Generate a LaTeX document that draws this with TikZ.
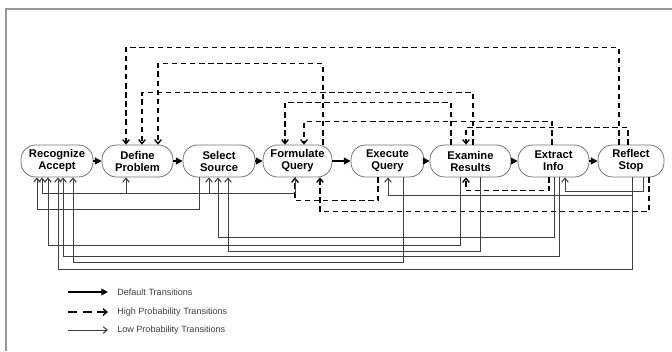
\documentclass[tikz,border=0pt]{standalone}
\usepackage{fontspec}
\setmainfont{Liberation Sans}
\usetikzlibrary{arrows.meta,calc}
\begin{document}
\begin{tikzpicture}[x=0.75pt,y=-0.75pt,
  stnode/.style={draw=black!55,line width=0.6pt,rounded corners=11pt,align=center,inner sep=0pt,minimum height=24pt,font=\fontsize{8.4}{9}\selectfont\bfseries},
  defarrow/.style={line width=1.6pt,-{Triangle[length=5pt,width=5pt]}},
  hiarrow/.style={line width=1.3pt,dash pattern=on 4pt off 2.8pt,-{Straight Barb[length=3pt,width=5pt,line width=1pt]}},
  loarrow/.style={line width=0.6pt,draw=black!75,-{Straight Barb[length=3pt,width=5pt,line width=0.8pt]}},
  legtext/.style={font=\fontsize{6.8}{8}\selectfont,text=black!75,anchor=west,inner sep=0pt}]
\useasboundingbox (0,0) rectangle (672,351);
\draw[black!40,line width=0.8pt] (672,9) -- (6,9) -- (6,351);

% states
\node[stnode,minimum width=54pt]    (ra) at (57,161)    {Recognize\\Accept};
\node[stnode,minimum width=53.25pt] (dp) at (137.5,161) {Define\\Problem};
\node[stnode,minimum width=54pt]    (ss) at (219,161)   {Select\\Source};
\node[stnode,minimum width=51.75pt] (fq) at (297.5,161) {Formulate\\Query};
\node[stnode,minimum width=54.75pt] (eq) at (387.5,161) {Execute\\Query};
\node[stnode,minimum width=60.75pt] (er) at (470.5,161) {Examine\\Results};
\node[stnode,minimum width=53.25pt] (ei) at (553.5,161) {Extract\\Info};
\node[stnode,minimum width=49.5pt]  (rs) at (631,161)   {Reflect\\Stop};

% default transitions
\draw[defarrow] (ra) -- (dp);
\draw[defarrow] (dp) -- (ss);
\draw[defarrow] (ss) -- (fq);
\draw[defarrow] (fq) -- (eq);
\draw[defarrow] (eq) -- (er);
\draw[defarrow] (er) -- (ei);
\draw[defarrow] (ei) -- (rs);

% high probability transitions (top)
\draw[hiarrow] ($(rs.north)+(-12,0)$)  -- ++(0,-97) -| ($(dp.north)+(-11.5,0)$);
\draw[hiarrow] ($(fq.north)+(25.5,0)$) -- ++(0,-81) -| ($(dp.north)+(20.5,0)$);
\draw[hiarrow] ($(er.north)+(2.5,0)$)  -- ++(0,-52) -| ($(dp.north)+(4.5,0)$);
\draw[hiarrow] ($(er.north)+(-19.5,0)$) -- ++(0,-42) -| ($(fq.north)+(-12.5,0)$);
\draw[hiarrow] ($(ei.north)+(-1.5,0)$) -- ++(0,-23) -| ($(fq.north)+(6.5,0)$);
\draw[hiarrow] ($(rs.north)+(-3,0)$)   -- ++(0,-17) -| ($(er.north)+(-4.5,0)$);
% high probability transitions (bottom)
\draw[hiarrow] ($(eq.south)+(-9.5,0)$) -- ++(0,23) -| ($(fq.south)+(-2.5,0)$);
\draw[hiarrow] ($(rs.south)+(18,0)$)   -- ++(0,34) -| ($(fq.south)+(22.5,0)$);
\draw[hiarrow] ($(ei.south)+(-4.5,0)$) -- ++(0,13) -| ($(er.south)+(-4.5,0)$);

% low probability transitions
\draw[loarrow] ($(ss.south)+(-20,0)$)  -- ++(0,32) -| ($(ra.south)+(-20,0)$);
\draw[loarrow] ($(ei.south)+(0.5,0)$)  -- ++(0,60) -| ($(ss.south)+(-1,0)$);
\draw[loarrow] ($(er.south)+(-10.5,0)$) -- ++(0,68) -| ($(ra.south)+(-9,0)$);
\draw[loarrow] ($(er.south)+(9.5,0)$)  -- ++(0,74) -| ($(ss.south)+(9,0)$);
\draw[loarrow] ($(ei.south)+(5.5,0)$)  -- ++(0,79) -| ($(ra.south)+(6,0)$);
\draw[loarrow] ($(eq.south)+(15.5,0)$) -- ++(0,85) -| ($(ra.south)+(16,0)$);
\draw[loarrow] ($(rs.south)+(1,0)$)    -- ++(0,92) -| ($(ra.south)+(1,0)$);
\draw[loarrow] ($(rs.south)+(1,0)$)    -- ++(0,18) -| ($(eq.south)+(0.5,0)$);
\draw[loarrow] ($(rs.south)+(12,0)$)   -- ++(0,14) -| ($(ei.south)+(11.5,0)$);
\draw[loarrow] ($(fq.south)+(-2.5,0)$) -- ++(0,16) -| ($(ra.south)+(-15,0)$);
\draw[loarrow] ($(dp.south)+(-11.5,16)$) -- ($(dp.south)+(-11.5,0)$);
\draw[loarrow] ($(ss.south)+(-10,16)$)   -- ($(ss.south)+(-10,0)$);

% legend
\node[legtext] (lg1) at (117,292) {Default Transitions};
\node[legtext] (lg2) at (117,312) {High Probability Transitions};
\node[legtext] (lg3) at (117,330) {Low Probability Transitions};
\draw[defarrow] ($(lg1.west)+(-49,0)$) -- ($(lg1.west)+(-9,0)$);
\draw[hiarrow,dash pattern=on 7pt off 4pt]  ($(lg2.west)+(-49,0)$) -- ($(lg2.west)+(-9,0)$);
\draw[loarrow]  ($(lg3.west)+(-49,0)$) -- ($(lg3.west)+(-9,0)$);
\end{tikzpicture}
\end{document}
